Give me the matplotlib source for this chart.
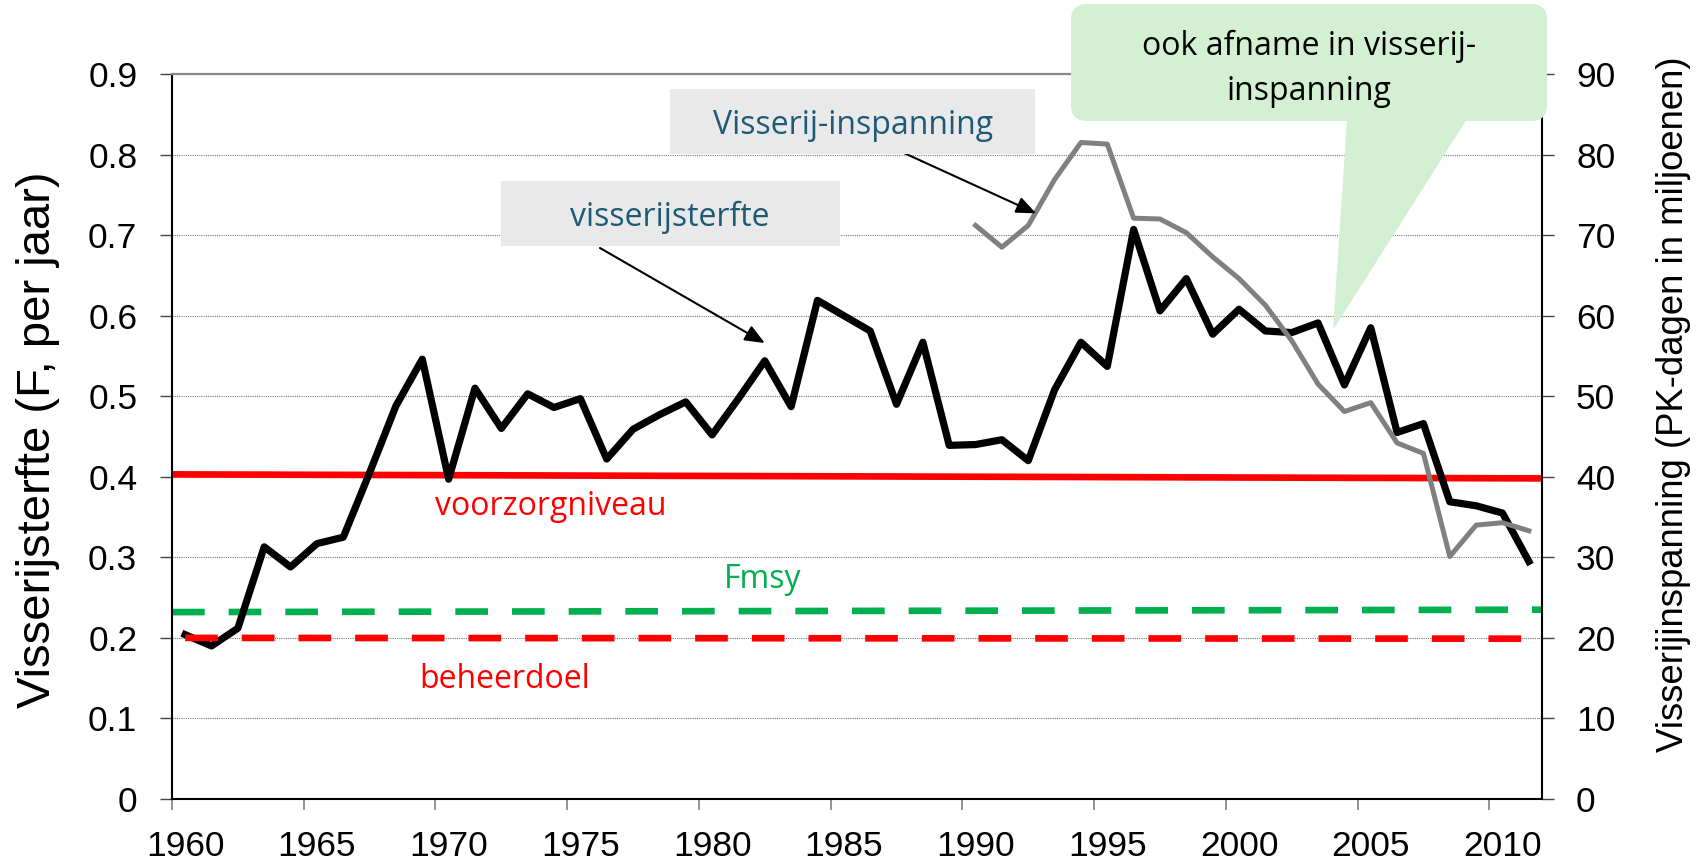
import matplotlib
matplotlib.use("Agg")
import matplotlib.pyplot as plt
import matplotlib.transforms as mtransforms
from matplotlib.patches import FancyBboxPatch, Rectangle, Polygon
import numpy as np

W, H, DPI = 1701, 864, 100

# fishing mortality F per year (left axis)
years = np.arange(1960, 2012)
mortality = [0.204, 0.190, 0.212, 0.313, 0.288, 0.317, 0.325, 0.405, 0.488, 0.546,
             0.397, 0.510, 0.460, 0.503, 0.486, 0.497, 0.422, 0.459, 0.477, 0.493,
             0.452, 0.497, 0.544, 0.487, 0.619, 0.600, 0.581, 0.490, 0.567, 0.439,
             0.440, 0.446, 0.420, 0.508, 0.567, 0.537, 0.707, 0.606, 0.646, 0.577,
             0.608, 0.581, 0.579, 0.591, 0.514, 0.585, 0.455, 0.466, 0.369, 0.364,
             0.355, 0.295]

# fishing effort, HP-days in millions (right axis)
effort_years = np.arange(1990, 2012)
effort = [71.2, 68.5, 71.2, 76.9, 81.5, 81.3, 72.1, 72.0, 70.3, 67.3,
          64.6, 61.3, 56.9, 51.5, 48.1, 49.2, 44.2, 42.9, 30.1, 34.0,
          34.3, 33.3]

# reference levels
ref_x = [1960, 2012]
f_lim = [0.403, 0.398]      # voorzorgniveau
f_msy = [0.232, 0.235]      # Fmsy
target_x = [1960.5, 2012]
f_target = [0.200, 0.199]   # beheerdoel

x_ticks = np.arange(1960, 2011, 5)
left_ticks = np.round(np.arange(0, 0.91, 0.1), 1)
right_ticks = np.arange(0, 91, 10)

plt.rcParams['font.family'] = ['Liberation Sans', 'DejaVu Sans']
NOTE_FONT = ['Open Sans', 'DejaVu Sans']

fig = plt.figure(figsize=(W / DPI, H / DPI), dpi=DPI)
ax = fig.add_axes([172 / W, 1 - 799 / H, (1542 - 172) / W, (799 - 74) / H])
ax2 = ax.twinx()

ax.set_xlim(1960, 2012)
ax.set_ylim(0, 0.9)
ax2.set_ylim(0, 90)

# spines
for side in ['left', 'bottom']:
    ax.spines[side].set_color('black')
    ax.spines[side].set_linewidth(1.5)
ax.spines['top'].set_color('#8a8a8a')
ax.spines['top'].set_linewidth(1.6)
ax.spines['right'].set_visible(False)
for side in ['left', 'top', 'bottom']:
    ax2.spines[side].set_visible(False)
ax2.spines['right'].set_color('black')
ax2.spines['right'].set_linewidth(1.5)

ax.grid(axis='y', color='#7a7a7a', lw=0.8, ls=(0, (1, 1)))
ax.set_axisbelow(True)

# left axis ticks
ax.set_yticks(left_ticks)
ax.set_yticklabels(['0' if v == 0 else f'{v:.1f}' for v in left_ticks])
ax.tick_params(axis='y', direction='out', length=8.5, width=1, color='#444444',
               labelsize=25.5, pad=16.5)

# year ticks sit between categories, labels centred on the category
ax.set_xticks(x_ticks)
ax.set_xticklabels([])
ax.tick_params(axis='x', which='major', direction='out', length=8, width=1.3,
               color='#8a8a8a')
ax.set_xticks(x_ticks + 0.5, minor=True)
ax.set_xticklabels([str(y) for y in x_ticks], minor=True)
ax.tick_params(axis='x', which='minor', length=0, labelsize=25.5, pad=22)

ax2.set_yticks(right_ticks)
ax2.tick_params(axis='y', direction='out', length=8.5, width=1, color='#444444',
                labelsize=25.5, pad=16)

# reference lines
ax.plot(ref_x, f_lim, color='#ff0000', lw=4.8, solid_capstyle='butt', zorder=2)
ax.plot(ref_x, f_msy, color='#00b050', lw=4.8, dashes=(4.9, 3.6), zorder=2)
ax.plot(target_x, f_target, color='#ff0000', lw=4.8, dashes=(4.9, 3.6), zorder=4)

# series
ax.plot(years + 0.5, mortality, color='black', lw=5.2, zorder=3)
ax2.plot(effort_years + 0.5, effort, color='#808080', lw=3.6, zorder=3)

# helpers for placing notes in pixel space (origin top-left)
pix = mtransforms.Affine2D().scale(1 / DPI) + fig.dpi_scale_trans


def fx(x):
    return x / W


def fy(y):
    return 1 - y / H


# axis titles
fig.text(fx(38), fy(440), 'Visserijsterfte (F, per jaar)', rotation=90,
         ha='center', va='center', fontsize=34)
fig.text(fx(1673), fy(404), 'Visserijinspanning (PK-dagen in miljoenen)',
         rotation=90, ha='center', va='center', fontsize=26.3)

# reference line labels
fig.text(fx(551), fy(515), 'voorzorgniveau', color='#ff0000', ha='center',
         va='baseline', fontsize=23, family=NOTE_FONT)
fig.text(fx(763), fy(588), 'Fmsy', color='#00b050', ha='center',
         va='baseline', fontsize=23, family=NOTE_FONT)
fig.text(fx(505), fy(688), 'beheerdoel', color='#ff0000', ha='center',
         va='baseline', fontsize=23, family=NOTE_FONT)

# grey label boxes with arrows
box_color = '#e9e9e9'
label_color = '#1d5a78'
fig.add_artist(Rectangle((501, H - 246), 339, 65, transform=pix,
                         facecolor=box_color, edgecolor='none', zorder=2))
fig.text(fx(670), fy(217), 'visserijsterfte', color=label_color, ha='center',
         va='center', fontsize=23, family=NOTE_FONT, zorder=3)
fig.add_artist(Rectangle((670, H - 154), 365, 65, transform=pix,
                         facecolor=box_color, edgecolor='none', zorder=2))
fig.text(fx(853), fy(125), 'Visserij-inspanning', color=label_color,
         ha='center', va='center', fontsize=23, family=NOTE_FONT, zorder=3)

arrow = dict(arrowstyle='-|>,head_length=0.6,head_width=0.25', color='black',
             lw=1.5, mutation_scale=20, shrinkA=0, shrinkB=0)
ax2.annotate('', xy=(1982.5, 56.6), xycoords='data',
             xytext=(fx(600), fy(248)), textcoords='figure fraction',
             arrowprops=arrow, annotation_clip=False, zorder=6)
ax2.annotate('', xy=(1992.8, 72.7), xycoords='data',
             xytext=(fx(904), fy(153)), textcoords='figure fraction',
             arrowprops=arrow, annotation_clip=False, zorder=6)

# speech bubble
bubble_color = '#d3f0d3'
fig.add_artist(FancyBboxPatch((1071, H - 121), 476, 117, transform=pix,
                              boxstyle='round,pad=0,rounding_size=16',
                              facecolor=bubble_color, edgecolor='none', zorder=2))
fig.add_artist(Polygon([(1347, H - 119), (1467, H - 119), (1333, H - 330)],
                       closed=True, transform=pix, facecolor=bubble_color,
                       edgecolor='none', zorder=2))
fig.text(fx(1309), fy(55), 'ook afname in visserij-', ha='center',
         va='baseline', fontsize=23, family=NOTE_FONT, zorder=3)
fig.text(fx(1309), fy(100), 'inspanning', ha='center', va='baseline',
         fontsize=23, family=NOTE_FONT, zorder=3)

fig.savefig('out.png', dpi=DPI)
